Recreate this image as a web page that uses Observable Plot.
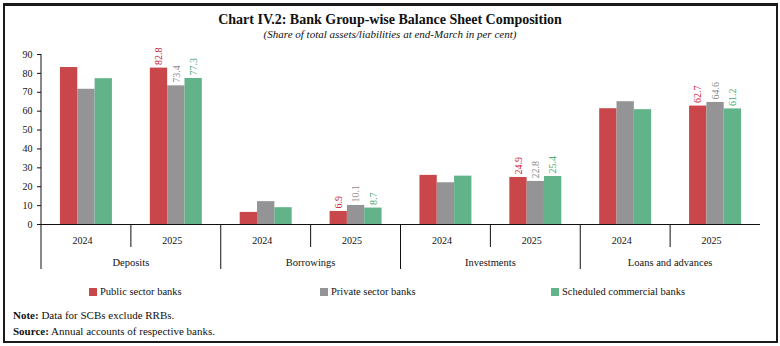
<!DOCTYPE html>
<html>
<head>
<meta charset="utf-8">
<script src="https://cdn.jsdelivr.net/npm/d3@7"></script>
<script src="https://cdn.jsdelivr.net/npm/@observablehq/plot@0.6"></script>
<style>
  html, body { margin: 0; padding: 0; background: #fff; }
  body { width: 780px; height: 346px; position: relative; overflow: hidden; font-family: "Liberation Serif", serif; color: #111; }
  #box { position: absolute; left: 3px; top: 3px; width: 775px; height: 340px; box-sizing: border-box; border: 2px solid #1a1a1a; border-top-width: 3px; }
  #title { position: absolute; left: 0; width: 780px; top: 12px; text-align: center; font-weight: bold; font-size: 14px; line-height: 16px; }
  #subtitle { position: absolute; left: 0; width: 780px; top: 28px; text-align: center; font-style: italic; font-size: 11px; line-height: 12px; }
  #chart { position: absolute; left: 0; top: 40px; }
  #legend { position: absolute; left: 89px; top: 286px; display: flex; }
  .item { width: 231px; display: flex; align-items: center; font-size: 10.5px; line-height: 12px; }
  .sw { width: 8px; height: 8px; margin-right: 3px; }
  #notes { position: absolute; left: 13px; top: 307px; font-size: 11px; line-height: 16px; }
</style>
</head>
<body>
<div id="box"></div>
<div id="title">Chart IV.2: Bank Group-wise Balance Sheet Composition</div>
<div id="subtitle">(Share of total assets/liabilities at end-March in per cent)</div>
<div id="chart"></div>
<div id="legend"></div>
<div id="notes"><div><b>Note:</b> Data for SCBs exclude RRBs.</div><div><b>Source:</b> Annual accounts of respective banks.</div></div>
<script>
const categories = ["Deposits", "Borrowings", "Investments", "Loans and advances"];
const years = ["2024", "2025"];
const series = ["Public sector banks", "Private sector banks", "Scheduled commercial banks"];
// values in order: Deposits 2024, 2025, Borrowings 2024, 2025, Investments 2024, 2025, Loans 2024, 2025
const publicSector = [83.1, 82.8, 6.4, 6.9, 26.0, 24.9, 61.3, 62.7];
const privateSector = [71.6, 73.4, 12.1, 10.1, 22.1, 22.8, 65.0, 64.6];
const scheduledCommercial = [77.2, 77.3, 8.9, 8.7, 25.6, 25.4, 60.8, 61.2];
const yTicks = [0, 10, 20, 30, 40, 50, 60, 70, 80, 90];
const barColors = ["#c9474a", "#949497", "#62b38a"];
const labelColors = ["#d0183c", "#8d8d90", "#4aa873"];

const valueSets = [publicSector, privateSector, scheduledCommercial];
const keys = [];
const rows = [];
categories.forEach((c, ci) => {
  years.forEach((y, yi) => {
    const key = c + "|" + y;
    keys.push(key);
    series.forEach((s, si) => {
      rows.push({key, category: c, year: y, series: s, value: valueSets[si][ci * 2 + yi]});
    });
  });
});

const labelMarks = series.map((s, si) => Plot.text(
  rows.filter(d => d.year === "2025" && d.series === s),
  {fx: "key", x: "series", y: "value", text: d => d.value.toFixed(1), rotate: -90,
   textAnchor: "start", dy: -3, fill: labelColors[si], fontSize: 10, fontFamily: "Liberation Serif"}
));

const plot = Plot.plot({
  width: 780,
  height: 236,
  marginLeft: 41,
  marginRight: 20,
  marginTop: 14,
  marginBottom: 52,
  style: {fontFamily: "Liberation Serif", fontSize: "10px", color: "#111", background: "transparent"},
  fx: {domain: keys, padding: 0, round: false, label: null},
  x: {domain: series, paddingInner: 0, paddingOuter: 1.094, round: false, axis: null},
  y: {domain: [0, 90], ticks: yTicks, label: null, tickSize: 4, tickPadding: 5},
  color: {domain: series, range: barColors},
  marks: [
    Plot.axisFx({anchor: "bottom", tickSize: 0, tickPadding: 12, dx: -4, label: null, tickFormat: k => k.split("|")[1]}),
    Plot.barY(rows, {fx: "key", x: "series", y: "value", fill: "series"}),
    ...labelMarks,
    Plot.ruleY([0], {stroke: "#111", strokeWidth: 1})
  ]
});
document.getElementById("chart").appendChild(plot);

// axis decorations drawn from the plot's own scales
const svg = d3.select(plot);
const fx = plot.scale("fx");
const y = plot.scale("y");
const y0 = y.apply(0);
const g = svg.append("g").attr("stroke", "#111").attr("stroke-width", 1);
const left0 = fx.apply(keys[0]);
g.append("line").attr("x1", left0).attr("x2", left0).attr("y1", y.apply(yTicks[yTicks.length - 1])).attr("y2", y0);
keys.forEach((k) => {
  const xs = fx.apply(k);
  const isGroupStart = k.endsWith(years[0]);
  g.append("line").attr("x1", xs).attr("x2", xs).attr("y1", y0).attr("y2", y0 + (isGroupStart ? 45 : 23));
});
categories.forEach(c => {
  const a = fx.apply(c + "|" + years[0]);
  const b = fx.apply(c + "|" + years[1]) + fx.bandwidth;
  svg.append("text").attr("x", (a + b) / 2).attr("y", y0 + 38).attr("dy", "0.35em")
    .attr("text-anchor", "middle").attr("font-size", 10.5).attr("font-family", "Liberation Serif")
    .attr("fill", "#111").text(c);
});

const legend = document.getElementById("legend");
series.forEach((s, i) => {
  const item = document.createElement("div");
  item.className = "item";
  const sw = document.createElement("span");
  sw.className = "sw";
  sw.style.background = barColors[i];
  item.appendChild(sw);
  item.appendChild(document.createTextNode(s));
  legend.appendChild(item);
});
</script>
</body>
</html>
